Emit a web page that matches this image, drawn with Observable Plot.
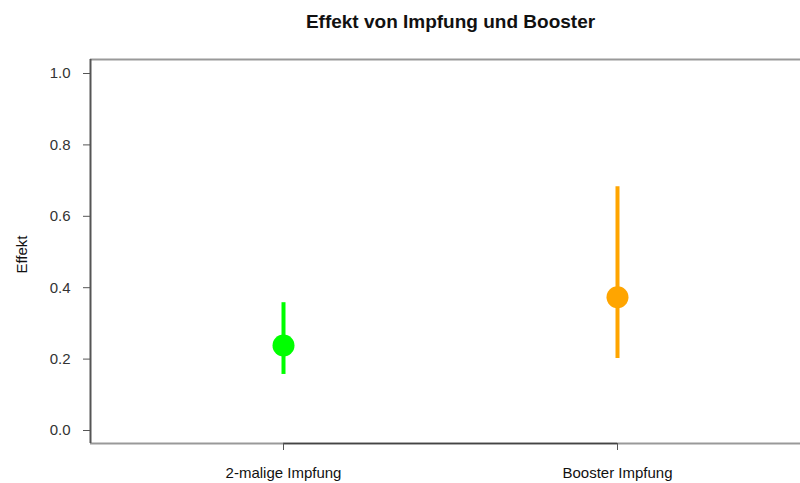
<!DOCTYPE html>
<html>
<head>
<meta charset="utf-8">
<script src="https://cdn.jsdelivr.net/npm/d3@7"></script>
<script src="https://cdn.jsdelivr.net/npm/@observablehq/plot@0.6"></script>
<style>
  body { margin: 0; background: #fff; }
</style>
</head>
<body>
<div id="chart"></div>
<script>
const title = "Effekt von Impfung und Booster";
const yLabel = "Effekt";
const categories = ["2-malige Impfung", "Booster Impfung"];
const positions = [1, 2];
const estimates = [0.238, 0.373];
const lower = [0.157, 0.202];
const upper = [0.358, 0.683];
const colors = ["#00ff00", "#ffa500"];
const yTicks = [0, 0.2, 0.4, 0.6, 0.8, 1.0];

const data = categories.map((c, i) => ({
  pos: positions[i], cat: c, est: estimates[i], lo: lower[i], hi: upper[i], color: colors[i]
}));

const xDom = [1 - 193 / 334, 2 + 183 / 334];
const yDom = [-13 / 357, 1 + 14 / 357];

const chart = Plot.plot({
  width: 800,
  height: 483,
  marginTop: 59,
  marginBottom: 40,
  marginLeft: 90,
  marginRight: 0,
  style: { fontFamily: "'Liberation Sans', Arial, sans-serif", fontSize: "15px", color: "#333", background: "#fff" },
  x: { type: "linear", domain: xDom },
  y: { domain: yDom },
  color: { type: "identity" },
  marks: [
    Plot.ruleY([yDom[1]], { stroke: "#999", strokeWidth: 2 }),
    Plot.ruleY([yDom[0]], { stroke: "#999", strokeWidth: 2 }),
    Plot.ruleY([yDom[0]], { x1: positions[0], x2: positions[positions.length - 1], stroke: "#444", strokeWidth: 1.5 }),
    Plot.ruleX([xDom[0]], { stroke: "#555", strokeWidth: 2 }),
    Plot.axisY({ ticks: yTicks, tickFormat: d3.format(".1f"), tickSize: 7, tickPadding: 13, label: null, stroke: "#555", fill: "#333", fontSize: 15 }),
    Plot.axisX({ ticks: positions, tickFormat: d => categories[positions.indexOf(d)], tickSize: 7, tickPadding: 17, label: null, stroke: "#555", fill: "#111", fontSize: 15 }),
    Plot.ruleX(data, { x: "pos", y1: "lo", y2: "hi", stroke: "color", strokeWidth: 4 }),
    Plot.dot(data, { x: "pos", y: "est", fill: "color", r: 11 }),
    Plot.text([title], { frameAnchor: "top", lineAnchor: "middle", dy: -38, dx: 5, fontWeight: "bold", fontSize: 19, fill: "#111" }),
    Plot.text([yLabel], { frameAnchor: "left", textAnchor: "middle", lineAnchor: "middle", rotate: -90, dx: -68, dy: 3, fontSize: 15, fill: "#111" })
  ]
});
document.getElementById("chart").appendChild(chart);
</script>
</body>
</html>
